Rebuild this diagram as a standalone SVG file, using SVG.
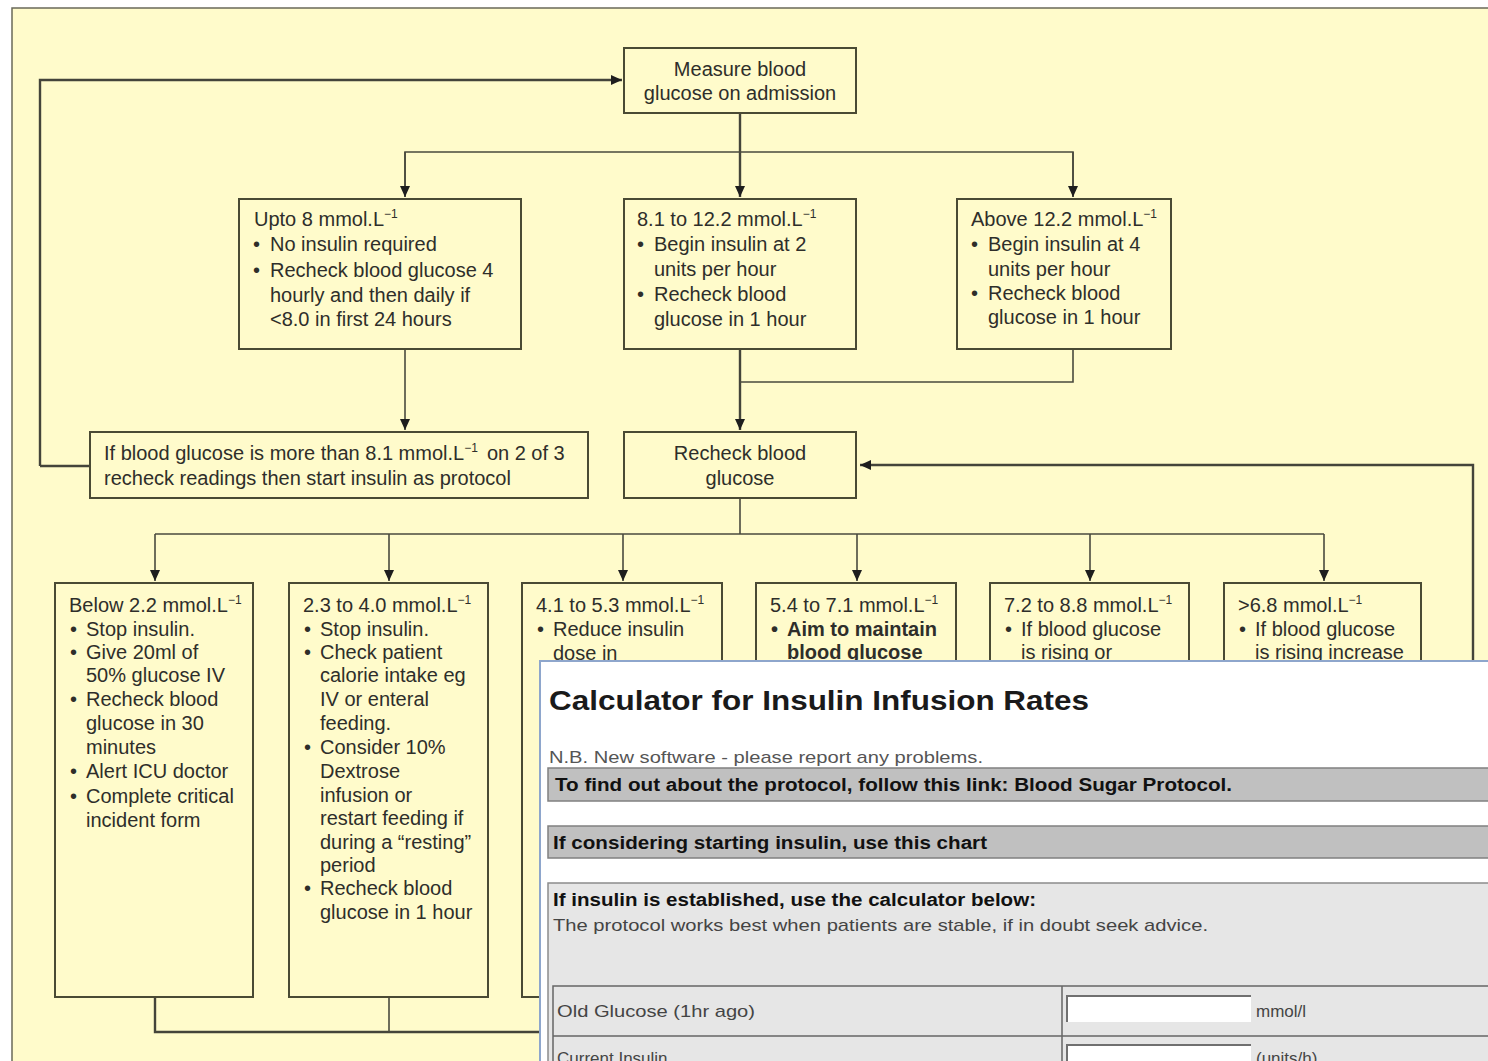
<svg xmlns="http://www.w3.org/2000/svg" width="1488" height="1061" viewBox="0 0 1488 1061">
<defs>
<marker id="arr" markerUnits="userSpaceOnUse" markerWidth="12" markerHeight="10" refX="11" refY="5" orient="auto">
<path d="M0,0 L11,5 L0,10 z" fill="#1e1e1e"/>
</marker>
<style>
.bx{fill:none;stroke:#4a4a34;stroke-width:2}
.t{font-family:"Liberation Sans",Arial,sans-serif;font-size:20px;fill:#2e2e2a}
.b{font-weight:bold}
.c{fill:none;stroke:#4a4a3e;stroke-width:1.6}
.cw{fill:none;stroke:#44443a;stroke-width:2.4}
.sup{font-size:12px}
.w{font-family:"Liberation Sans",Arial,sans-serif}
</style>
</defs>
<rect width="1488" height="1061" fill="#ffffff"/>
<rect x="12" y="8" width="1480" height="1060" fill="#fffbcb"/>
<path d="M12,1061 V8 H1488" fill="none" stroke="#6a6a5a" stroke-width="1.5"/>

<g id="connectors">
<path class="cw" d="M40,466 V80 H622" marker-end="url(#arr)"/>
<path class="cw" d="M90,466 H40"/>
<path class="cw" d="M740,113 V197" marker-end="url(#arr)"/>
<path class="c" d="M405,197 V152 H1073 V197" />
<path class="c" d="M405,152 V197" marker-end="url(#arr)"/>
<path class="c" d="M1073,152 V197" marker-end="url(#arr)"/>
<path class="c" d="M405,349 V430" marker-end="url(#arr)"/>
<path class="cw" d="M740,349 V430" marker-end="url(#arr)"/>
<path class="c" d="M1073,349 V382 H740"/>
<path class="c" d="M740,498 V534"/>
<path class="c" d="M155,534 H1324"/>
<path class="c" d="M155,534 V581" marker-end="url(#arr)"/>
<path class="c" d="M389,534 V581" marker-end="url(#arr)"/>
<path class="c" d="M623,534 V581" marker-end="url(#arr)"/>
<path class="c" d="M857,534 V581" marker-end="url(#arr)"/>
<path class="c" d="M1090,534 V581" marker-end="url(#arr)"/>
<path class="c" d="M1324,534 V581" marker-end="url(#arr)"/>
<path class="cw" d="M155,997 V1032 H1473 V465 H860" marker-end="url(#arr)"/>
<path class="c" d="M389,997 V1032"/>
</g>

<g id="n-measure">
<rect class="bx" x="624" y="48" width="232" height="65"/>
<text class="t" x="740" y="76" text-anchor="middle">Measure blood</text>
<text class="t" x="740" y="100" text-anchor="middle">glucose on admission</text>
</g>

<g id="n-upto8">
<rect class="bx" x="239" y="199" width="282" height="150"/>
<text class="t" x="254" y="226">Upto 8 mmol.L<tspan class="sup" dy="-8">−1</tspan></text>
<text class="t" x="253" y="251">•</text><text class="t" x="270" y="251">No insulin required</text>
<text class="t" x="253" y="277">•</text><text class="t" x="270" y="277">Recheck blood glucose 4</text>
<text class="t" x="270" y="302">hourly and then daily if</text>
<text class="t" x="270" y="326">&lt;8.0 in first 24 hours</text>
</g>

<g id="n-8to12">
<rect class="bx" x="624" y="199" width="232" height="150"/>
<text class="t" x="637" y="226">8.1 to 12.2 mmol.L<tspan class="sup" dy="-8">−1</tspan></text>
<text class="t" x="637" y="251">•</text><text class="t" x="654" y="251">Begin insulin at 2</text>
<text class="t" x="654" y="276">units per hour</text>
<text class="t" x="637" y="301">•</text><text class="t" x="654" y="301">Recheck blood</text>
<text class="t" x="654" y="326">glucose in 1 hour</text>
</g>

<g id="n-above12">
<rect class="bx" x="957" y="199" width="214" height="150"/>
<text class="t" x="971" y="226">Above 12.2 mmol.L<tspan class="sup" dy="-8">−1</tspan></text>
<text class="t" x="971" y="251">•</text><text class="t" x="988" y="251">Begin insulin at 4</text>
<text class="t" x="988" y="276">units per hour</text>
<text class="t" x="971" y="300">•</text><text class="t" x="988" y="300">Recheck blood</text>
<text class="t" x="988" y="324">glucose in 1 hour</text>
</g>

<g id="n-ifmore">
<rect class="bx" x="90" y="432" width="498" height="66"/>
<text class="t" x="104" y="460">If blood glucose is more than 8.1 mmol.L<tspan class="sup" dy="-8">−1</tspan><tspan dx="9" dy="8">on 2 of 3</tspan></text>
<text class="t" x="104" y="485">recheck readings then start insulin as protocol</text>
</g>

<g id="n-recheck">
<rect class="bx" x="624" y="432" width="232" height="66"/>
<text class="t" x="740" y="460" text-anchor="middle">Recheck blood</text>
<text class="t" x="740" y="485" text-anchor="middle">glucose</text>
</g>

<g id="n-below22">
<rect class="bx" x="55" y="583" width="198" height="414"/>
<text class="t" x="69" y="612">Below 2.2 mmol.L<tspan class="sup" dy="-8">−1</tspan></text>
<text class="t" x="70" y="636">•</text><text class="t" x="86" y="636">Stop insulin.</text>
<text class="t" x="70" y="659">•</text><text class="t" x="86" y="659">Give 20ml of</text>
<text class="t" x="86" y="682">50% glucose IV</text>
<text class="t" x="70" y="706">•</text><text class="t" x="86" y="706">Recheck blood</text>
<text class="t" x="86" y="730">glucose in 30</text>
<text class="t" x="86" y="754">minutes</text>
<text class="t" x="70" y="778">•</text><text class="t" x="86" y="778">Alert ICU doctor</text>
<text class="t" x="70" y="803">•</text><text class="t" x="86" y="803">Complete critical</text>
<text class="t" x="86" y="827">incident form</text>
</g>

<g id="n-23to40">
<rect class="bx" x="289" y="583" width="199" height="414"/>
<text class="t" x="303" y="612">2.3 to 4.0 mmol.L<tspan class="sup" dy="-8">−1</tspan></text>
<text class="t" x="304" y="636">•</text><text class="t" x="320" y="636">Stop insulin.</text>
<text class="t" x="304" y="659">•</text><text class="t" x="320" y="659">Check patient</text>
<text class="t" x="320" y="682">calorie intake eg</text>
<text class="t" x="320" y="706">IV or enteral</text>
<text class="t" x="320" y="730">feeding.</text>
<text class="t" x="304" y="754">•</text><text class="t" x="320" y="754">Consider 10%</text>
<text class="t" x="320" y="778">Dextrose</text>
<text class="t" x="320" y="802">infusion or</text>
<text class="t" x="320" y="825">restart feeding if</text>
<text class="t" x="320" y="849">during a “resting”</text>
<text class="t" x="320" y="872">period</text>
<text class="t" x="304" y="895">•</text><text class="t" x="320" y="895">Recheck blood</text>
<text class="t" x="320" y="919">glucose in 1 hour</text>
</g>

<g id="n-41to53">
<rect class="bx" x="522" y="583" width="200" height="414"/>
<text class="t" x="536" y="612">4.1 to 5.3 mmol.L<tspan class="sup" dy="-8">−1</tspan></text>
<text class="t" x="537" y="636">•</text><text class="t" x="553" y="636">Reduce insulin</text>
<text class="t" x="553" y="660">dose in</text>
</g>

<g id="n-54to71">
<rect class="bx" x="756" y="583" width="200" height="414"/>
<text class="t" x="770" y="612">5.4 to 7.1 mmol.L<tspan class="sup" dy="-8">−1</tspan></text>
<text class="t b" x="771" y="636">•</text><text class="t b" x="787" y="636">Aim to maintain</text>
<text class="t b" x="787" y="659">blood glucose</text>
</g>

<g id="n-72to88">
<rect class="bx" x="990" y="583" width="199" height="414"/>
<text class="t" x="1004" y="612">7.2 to 8.8 mmol.L<tspan class="sup" dy="-8">−1</tspan></text>
<text class="t" x="1005" y="636">•</text><text class="t" x="1021" y="636">If blood glucose</text>
<text class="t" x="1021" y="659">is rising or</text>
</g>

<g id="n-gt68">
<rect class="bx" x="1224" y="583" width="197" height="414"/>
<text class="t" x="1238" y="612">&gt;6.8 mmol.L<tspan class="sup" dy="-8">−1</tspan></text>
<text class="t" x="1239" y="636">•</text><text class="t" x="1255" y="636">If blood glucose</text>
<text class="t" x="1255" y="659">is rising increase</text>
</g>

<g id="calculator">
<rect x="540" y="661" width="960" height="410" fill="#ffffff" stroke="#8ea6cc" stroke-width="2"/>
<text class="w b" x="549" y="710" font-size="28" fill="#1a1a1a" textLength="540" lengthAdjust="spacingAndGlyphs">Calculator for Insulin Infusion Rates</text>
<text class="w" x="549" y="763" font-size="17" fill="#555" textLength="434" lengthAdjust="spacingAndGlyphs">N.B. New software - please report any problems.</text>
<rect x="548" y="768" width="950" height="33" fill="#c0c0c0" stroke="#808080" stroke-width="1.5"/>
<text class="w b" x="555" y="791" font-size="18" fill="#111" textLength="677" lengthAdjust="spacingAndGlyphs">To find out about the protocol, follow this link: Blood Sugar Protocol.</text>
<rect x="548" y="826" width="950" height="32" fill="#c0c0c0" stroke="#808080" stroke-width="1.5"/>
<text class="w b" x="553" y="849" font-size="18" fill="#111" textLength="434" lengthAdjust="spacingAndGlyphs">If considering starting insulin, use this chart</text>
<rect x="548" y="883" width="950" height="190" fill="#e6e6e6" stroke="#8c8c8c" stroke-width="1.5"/>
<text class="w b" x="553" y="906" font-size="18" fill="#111" textLength="483" lengthAdjust="spacingAndGlyphs">If insulin is established, use the calculator below:</text>
<text class="w" x="553" y="931" font-size="17" fill="#444" textLength="655" lengthAdjust="spacingAndGlyphs">The protocol works best when patients are stable, if in doubt seek advice.</text>
<path d="M553,1070 V986 H1498 M553,1036 H1498 M1062,986 V1070" fill="none" stroke="#666" stroke-width="1.5"/>
<text class="w" x="557" y="1017" font-size="17" fill="#444" textLength="198" lengthAdjust="spacingAndGlyphs">Old Glucose (1hr ago)</text>
<rect x="1066" y="996" width="185" height="26" fill="#ffffff"/>
<path d="M1067,1022 V996 H1251" fill="none" stroke="#707070" stroke-width="2"/>
<text class="w" x="1256" y="1017" font-size="17" fill="#444">mmol/l</text>
<text class="w" x="557" y="1064" font-size="17" fill="#444">Current Insulin</text>
<rect x="1066" y="1045" width="185" height="26" fill="#ffffff"/>
<path d="M1067,1071 V1045 H1251" fill="none" stroke="#707070" stroke-width="2"/>
<text class="w" x="1256" y="1064" font-size="17" fill="#444">(units/h)</text>
</g>
</svg>
